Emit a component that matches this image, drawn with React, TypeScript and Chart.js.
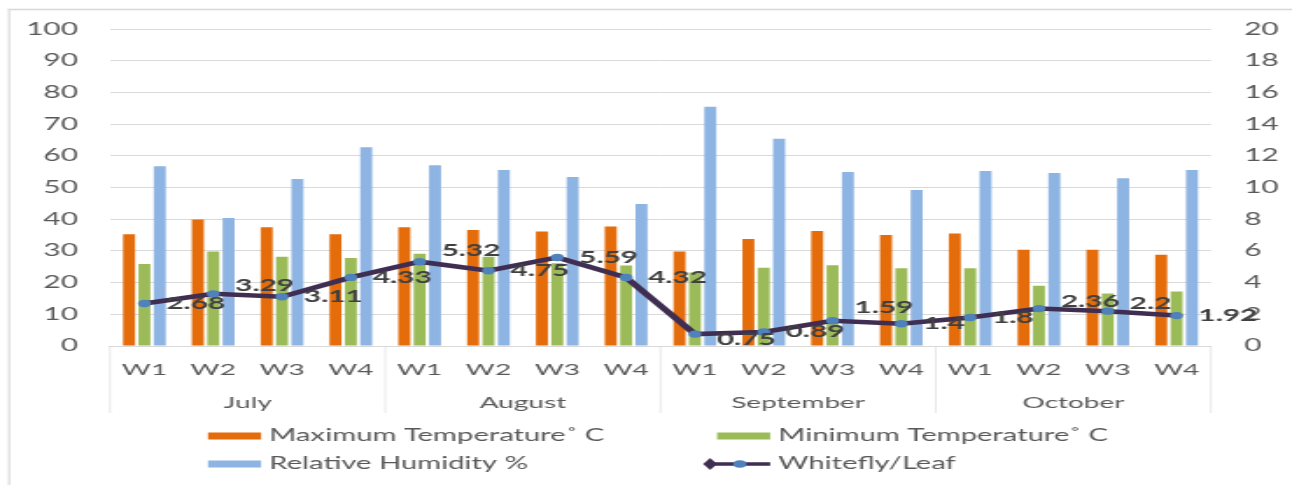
import React, { useEffect, useRef } from "react";
import { Chart, registerables } from "chart.js";

Chart.register(...registerables);

// ---- data ----
const WEEKS = ["W1", "W2", "W3", "W4"];
const MONTHS = ["July", "August", "September", "October"];
const MAX_TEMP = [35.3, 39.9, 37.5, 35.3, 37.5, 36.6, 36.1, 37.7, 29.8, 33.8, 36.3, 35.0, 35.5, 30.4, 30.4, 28.8];
const MIN_TEMP = [25.9, 29.8, 28.2, 27.8, 29.1, 28.2, 26.1, 25.4, 23.2, 24.7, 25.5, 24.5, 24.5, 19.0, 16.6, 17.2];
const HUMIDITY = [56.7, 40.4, 52.7, 62.7, 57.0, 55.5, 53.3, 44.8, 75.5, 65.4, 54.9, 49.2, 55.2, 54.6, 52.9, 55.5];
const WHITEFLY = [2.68, 3.29, 3.11, 4.33, 5.32, 4.75, 5.59, 4.32, 0.75, 0.89, 1.59, 1.4, 1.8, 2.36, 2.2, 1.92];
const LEFT_AXIS = { min: 0, max: 100, step: 10 };
const RIGHT_AXIS = { min: 0, max: 20, step: 2 };
const SERIES_NAMES = ["Maximum Temperature˚ C", "Minimum Temperature˚ C", "Relative Humidity %", "Whitefly/Leaf"];

// ---- layout / style ----
const PAGE_W = 1292;
const CW = 738;
const CH = 485;
const S = PAGE_W / CW;
const FONT = "Lato, 'Liberation Sans', sans-serif";
const TEXT = "#595959";
const GRID = "#d9d9d9";
const COLORS = { max: "#e46c0a", min: "#9bbb59", hum: "#8db4e2", line: "#3f2d52", point: "#4f81bd" };
// vertical nudges (px) of a few manually-moved data labels
const LABEL_NUDGE: Record<number, number> = { 1: -8, 4: -11, 8: 5, 10: -13, 13: -7, 14: -8 };

const labels: string[] = [];
MONTHS.forEach(() => WEEKS.forEach((w) => labels.push(w)));

const decorPlugin = {
  id: "decor",
  afterDatasetsDraw(chart: any) {
    const ctx = chart.ctx;
    const meta = chart.getDatasetMeta(0);
    ctx.save();
    ctx.font = `bold 17px ${FONT}`;
    ctx.fillStyle = "#404040";
    ctx.textAlign = "left";
    ctx.textBaseline = "middle";
    meta.data.forEach((pt: any, i: number) => {
      const v = chart.data.datasets[0].data[i];
      ctx.fillText(String(v), pt.x + 12.5, pt.y + (LABEL_NUDGE[i] || 0));
    });
    ctx.restore();
  },
  afterDraw(chart: any) {
    const ctx = chart.ctx;
    const xs = chart.scales.x;
    const catW = xs.width / labels.length;
    ctx.save();
    // outer border (left + top)
    ctx.fillStyle = GRID;
    ctx.fillRect(4.6, 8.7, CW, 1.6);
    ctx.fillRect(4.6, 8.7, 1.15, CH);
    // group dividers
    ctx.strokeStyle = GRID;
    ctx.lineWidth = 0.6;
    for (let g = 0; g <= MONTHS.length; g++) {
      const x = xs.left + g * WEEKS.length * catW;
      ctx.beginPath();
      ctx.moveTo(x, xs.top);
      ctx.lineTo(x, 413);
      ctx.stroke();
    }
    // month labels
    ctx.font = `16px ${FONT}`;
    ctx.fillStyle = TEXT;
    ctx.textAlign = "center";
    ctx.textBaseline = "middle";
    MONTHS.forEach((m, g) => {
      const x = xs.left + (g + 0.5) * WEEKS.length * catW;
      ctx.fillText(m, x, 403);
    });
    // legend
    const ds = chart.data.datasets;
    const items = [
      { ds: ds[1], bx: 118.8, y: 436 },
      { ds: ds[2], bx: 409.6, y: 436 },
      { ds: ds[3], bx: 118.8, y: 464 },
      { ds: ds[0], bx: 409.6, y: 464 },
    ];
    ctx.font = `16.7px ${FONT}`;
    ctx.textAlign = "left";
    items.forEach((it) => {
      if (it.ds.type === "line") {
        ctx.strokeStyle = it.ds.borderColor;
        ctx.lineWidth = 3.5;
        ctx.beginPath();
        ctx.moveTo(it.bx - 6, it.y);
        ctx.lineTo(it.bx + 30.3, it.y);
        ctx.stroke();
        ctx.fillStyle = it.ds.borderColor;
        ctx.beginPath();
        ctx.moveTo(it.bx - 8, it.y);
        ctx.lineTo(it.bx - 4, it.y - 6);
        ctx.lineTo(it.bx, it.y);
        ctx.lineTo(it.bx - 4, it.y + 6);
        ctx.closePath();
        ctx.fill();
        ctx.fillStyle = it.ds.pointBackgroundColor;
        ctx.beginPath();
        ctx.arc(it.bx + 13, it.y, 3.8, 0, Math.PI * 2);
        ctx.fill();
      } else {
        ctx.fillStyle = it.ds.backgroundColor;
        ctx.fillRect(it.bx, it.y - 3.5, 30.3, 7);
      }
      ctx.fillStyle = TEXT;
      ctx.fillText(it.ds.label, it.bx + 35, it.y);
    });
    ctx.restore();
  },
};

export default function App() {
  const ref = useRef<HTMLCanvasElement | null>(null);
  useEffect(() => {
    if (!ref.current) return;
    const barCommon = { yAxisID: "y", categoryPercentage: 0.67, barPercentage: 0.78, order: 1 };
    const chart = new Chart(ref.current, {
      type: "bar",
      data: {
        labels,
        datasets: [
          {
            type: "line",
            label: SERIES_NAMES[3],
            data: WHITEFLY,
            yAxisID: "y1",
            borderColor: COLORS.line,
            borderWidth: 4.5,
            pointRadius: 3.7,
            pointBackgroundColor: COLORS.point,
            pointBorderWidth: 0,
            pointBorderColor: COLORS.point,
            tension: 0,
            order: 0,
          } as any,
          { ...barCommon, label: SERIES_NAMES[0], data: MAX_TEMP, backgroundColor: COLORS.max },
          { ...barCommon, label: SERIES_NAMES[1], data: MIN_TEMP, backgroundColor: COLORS.min },
          { ...barCommon, label: SERIES_NAMES[2], data: HUMIDITY, backgroundColor: COLORS.hum },
        ],
      },
      options: {
        animation: false,
        responsive: false,
        devicePixelRatio: 1,
        layout: { padding: { top: 27, left: 0, right: 0, bottom: 0 } },
        plugins: { legend: { display: false }, tooltip: { enabled: false } },
        scales: {
          x: {
            grid: { display: false, drawTicks: false },
            border: { display: true, color: GRID, width: 1 },
            ticks: { color: TEXT, font: { family: FONT, size: 16 }, padding: 14, maxRotation: 0, autoSkip: false },
            afterFit: (s: any) => { s.height = CH - 346; },
          },
          y: {
            position: "left",
            min: LEFT_AXIS.min,
            max: LEFT_AXIS.max,
            grid: { color: GRID, lineWidth: 1, drawTicks: false },
            border: { display: false },
            ticks: { stepSize: LEFT_AXIS.step, color: TEXT, font: { family: FONT, size: 17 }, padding: 18.3 },
            afterFit: (s: any) => { s.width = 110 / S; },
          },
          y1: {
            position: "right",
            min: RIGHT_AXIS.min,
            max: RIGHT_AXIS.max,
            grid: { display: false, drawTicks: false },
            border: { display: false },
            ticks: { stepSize: RIGHT_AXIS.step, color: TEXT, font: { family: FONT, size: 17 }, padding: 18.9 },
            afterFit: (s: any) => { s.width = CW - 1211 / S; },
          },
        },
      } as any,
      plugins: [decorPlugin],
    });
    return () => chart.destroy();
  }, []);
  return (
    <div style={{ position: "fixed", left: 0, top: 0, width: PAGE_W + "px", height: CH + "px", overflow: "hidden", background: "#fff" }}>
      <div style={{ position: "absolute", left: 0, top: 0, width: CW + "px", height: CH + "px", transform: `scale(${S},1)`, transformOrigin: "0 0" }}>
        <canvas ref={ref} width={CW} height={CH} style={{ display: "block" }} />
      </div>
    </div>
  );
}
